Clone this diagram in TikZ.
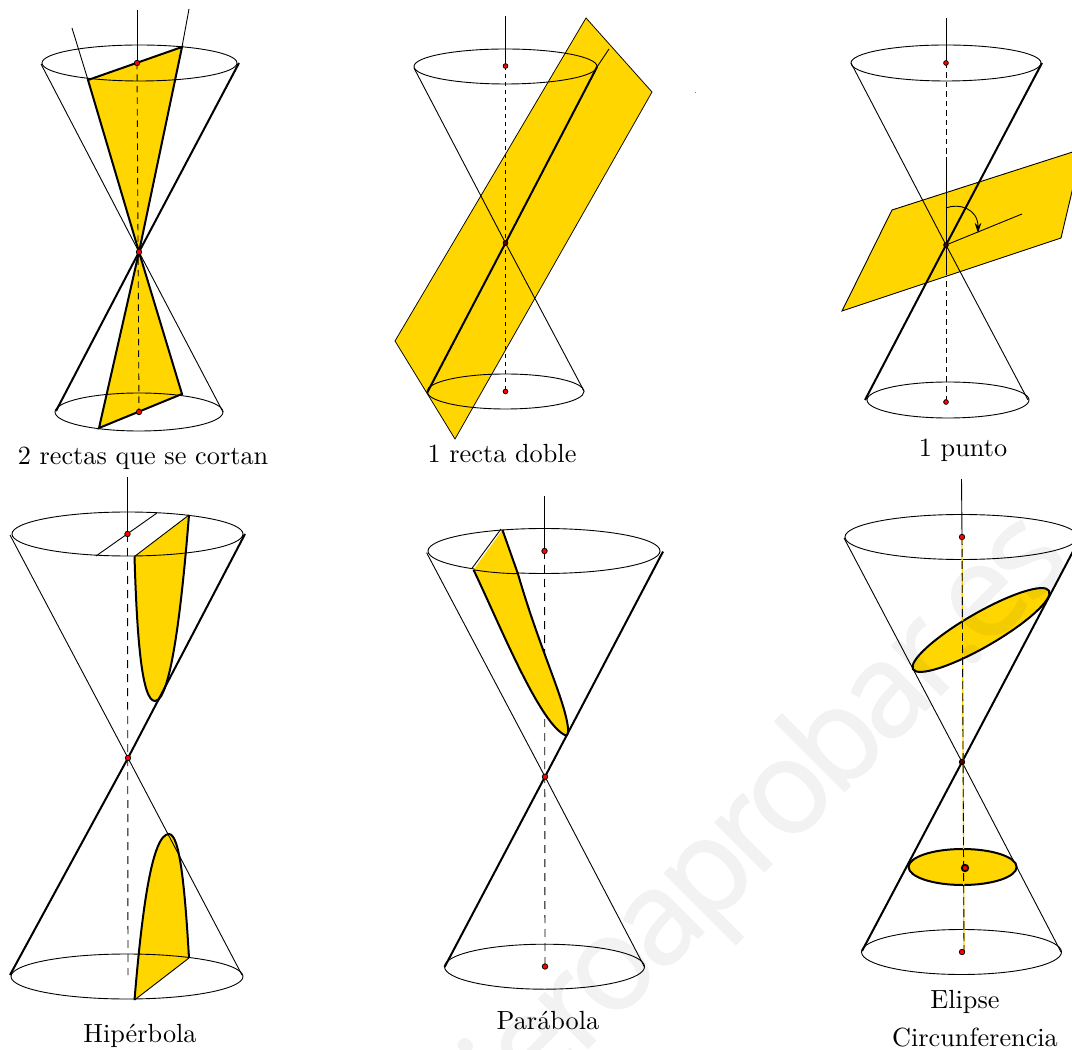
\documentclass[tikz,border=0pt]{standalone}
\usepackage{fontspec}
\newfontfamily\wmfont[FakeBold=1.2,LetterSpace=-6]{Open Sans}
\usetikzlibrary{arrows.meta}
\definecolor{gold}{RGB}{255,214,0}
\tikzset{
  thinl/.style={line width=0.36pt,black},
  thickl/.style={line width=0.8pt,black},
  axisd/.style={line width=0.36pt,black,dash pattern=on 2.6pt off 2pt},
  sect/.style={fill=gold,draw=none},
  ptm/.style={circle,fill=red,draw=black,line width=0.3pt,inner sep=0pt,minimum size=2.2pt},
  capt/.style={inner sep=0pt,font=\fontsize{10.5}{12.5}\selectfont},
}
\begin{document}
\begin{tikzpicture}[x=0.4pt,y=-0.4pt]
\useasboundingbox (0,0) rectangle (1072,1050);
\clip (0,0) rectangle (1072,1050);
%% ---------- Cone 1
\coordinate (a1t) at (137,63); \coordinate (a1m) at (139,252); \coordinate (a1b) at (139,412);
\coordinate (a1p) at (137,10);
\coordinate (a1tl) at (41,64); \coordinate (a1tr) at (239,63); \coordinate (a1bl) at (56,411); \coordinate (a1br) at (223,412);
\coordinate (a1A) at (88,80); \coordinate (a1B) at (182,47); \coordinate (a1C) at (99,428); \coordinate (a1D) at (182,394);
\coordinate (a1E) at (72,28); \coordinate (a1F) at (189,9);
\fill[sect] (a1A) -- (a1B) -- (a1m) -- cycle;
\fill[sect] (a1m) -- (a1C) -- (a1D) -- cycle;
\draw[thinl] (139.5,63) ellipse [x radius=97.5,y radius=18];
\draw[thinl] (139,412) ellipse [x radius=84,y radius=19];
\draw[thinl] (a1tl) -- (a1m) -- (a1br);
\draw[thickl] (a1tr) -- (a1m) -- (a1bl);
\draw[thinl] (a1E) -- (a1A);
\draw[thinl] (a1F) -- (a1B);
\draw[thickl] (a1A) -- (a1B) -- (a1m) -- cycle;
\draw[thickl] (a1m) -- (a1C) -- (a1D) -- cycle;
\draw[thinl] (a1p) -- (a1t);
\draw[axisd] (a1t) -- (a1b);
\node[ptm] (d1a) at (a1t) {}; \node[ptm] (d1b) at (a1m) {}; \node[ptm] (d1c) at (a1b) {};
\node[capt] (c1) at (143,458) {2 rectas que se cortan};
%% ---------- Cone 2
\coordinate (a2t) at (505.5,66); \coordinate (a2m) at (505.5,243); \coordinate (a2b) at (505.5,391.5);
\coordinate (a2p) at (505.5,16);
\coordinate (a2tl) at (414,68); \coordinate (a2br) at (584,391);
\coordinate (a2bl) at (427,393); \coordinate (a2tr) at (597,67); \coordinate (a2x) at (609,49);
\fill[gold,draw=black,line width=0.3pt] (586,18) -- (652,92) -- (455,439) -- (395,341) -- cycle;
\draw[thinl] (505.5,66.5) ellipse [x radius=91.5,y radius=17.5];
\draw[thinl] (505.5,391.5) ellipse [x radius=78.5,y radius=17.5];
\draw[thinl] (a2tl) -- (a2m) -- (a2br);
\draw[thinl] (a2tr) -- (a2x);
\draw[thickl] (a2bl) -- (a2m) -- (a2tr);
\draw[thinl] (a2p) -- (a2t);
\draw[axisd,dash pattern=on 1.8pt off 1.4pt] (a2t) -- (a2b);
\node[ptm,minimum size=1.9pt] (d2a) at (a2t) {}; \node[ptm,minimum size=1.9pt,fill=black!60!red] (d2b) at (a2m) {}; \node[ptm,minimum size=1.9pt] (d2c) at (a2b) {};
\fill[gray] (694.6,91.6) rectangle (695.4,92.4);
\node[capt] (c2) at (502,454) {1 recta doble};
%% ---------- Cone 3
\coordinate (a3t) at (946,63); \coordinate (a3m) at (946,245); \coordinate (a3b) at (946,402);
\coordinate (a3p) at (946,18);
\coordinate (a3tl) at (851,63); \coordinate (a3tr) at (1042,63); \coordinate (a3bl) at (865,400); \coordinate (a3br) at (1028,400);
\coordinate (a3e) at (1022,214);
\draw[thinl] (946,63) ellipse [x radius=95,y radius=18];
\draw[thinl] (948,400) ellipse [x radius=81,y radius=18];
\draw[axisd,dash pattern=on 2.2pt off 1.6pt] (a3t) -- (a3b);
\fill[gold,draw=black,line width=0.36pt] (892,210) -- (1082,149) -- (1061,238) -- (842,311) -- cycle;
\draw[thinl] (946,157) -- (946,275);
\draw[thinl] (a3p) -- (a3t);
\draw[thinl] (a3tl) -- (a3m) -- (a3br);
\draw[thickl] (a3tr) -- (a3m) -- (a3bl);
\draw[thinl] (a3m) -- (a3e);
\draw[thinl,-{Stealth[length=4pt,width=2.6pt]}] (946,208) .. controls (958,203) and (978,208) .. (978,233);
\node[ptm,minimum size=1.9pt] (d3a) at (a3t) {}; \node[ptm,minimum size=1.9pt,fill=black!70!red] (d3b) at (a3m) {}; \node[ptm,minimum size=1.9pt] (d3c) at (a3b) {};
\node[capt] (c3) at (963,450) {1 punto};
%% ---------- Cone 4
\coordinate (a4t) at (127.5,534); \coordinate (a4m) at (128,758); \coordinate (a4b) at (128,975);
\coordinate (a4p) at (127.5,477);
\coordinate (a4tl) at (10,535); \coordinate (a4tr) at (245,534); \coordinate (a4bl) at (10,975); \coordinate (a4br) at (242,975);
\fill[sect] (134.5,556.5) -- (189,515) .. controls (183,590) and (172,701) .. (155,701) .. controls (142,701) and (137,640) .. (134.5,556.5) -- cycle;
\fill[sect] (134.5,1000) .. controls (142,910) and (152,834) .. (169,834) .. controls (180,834) and (185,890) .. (189,958) -- cycle;
\draw[thinl] (127.5,534) ellipse [x radius=115.5,y radius=22];
\draw[thinl] (127,976.5) ellipse [x radius=116,y radius=22.5];
\draw[thinl] (a4tl) -- (a4m) -- (a4br);
\draw[thickl] (a4tr) -- (a4m) -- (a4bl);
\draw[thinl] (96,556) -- (157,513);
\draw[thinl] (134.5,556.5) -- (189,515);
\draw[thickl] (189,515) .. controls (183,590) and (172,701) .. (155,701) .. controls (142,701) and (137,640) .. (134.5,556.5);
\draw[thinl] (134.5,1000) -- (189,958);
\draw[thickl] (134.5,1000) .. controls (142,910) and (152,834) .. (169,834) .. controls (180,834) and (185,890) .. (189,958);
\draw[thinl] (a4p) -- (a4t);
\draw[axisd,dash pattern=on 3.2pt off 2.4pt] (a4t) -- (a4b);
\node[ptm] (d4a) at (a4t) {}; \node[ptm] (d4b) at (a4m) {};
\node[capt] (c4) at (140,1036) {Hipérbola};
%% ---------- Cone 5
\coordinate (a5t) at (544.5,551); \coordinate (a5m) at (545,776.7); \coordinate (a5b) at (545,966.5);
\coordinate (a5p) at (544.5,496);
\coordinate (a5tl) at (426.6,552.7); \coordinate (a5tr) at (663,551.6); \coordinate (a5bl) at (444.6,967); \coordinate (a5br) at (644.5,967);
\draw[thinl] (544,551) ellipse [x radius=116,y radius=22.5];
\draw[thinl] (544.5,966.7) ellipse [x radius=100,y radius=22.5];
\draw[thinl] (a5tl) -- (a5m) -- (a5br);
\draw[thickl] (a5tr) -- (a5m) -- (a5bl);
\draw[thinl] (a5p) -- (a5t);
\draw[axisd,dash pattern=on 3.2pt off 2.4pt] (a5t) -- (a5b);
\fill[sect] (473.5,569.8) -- (502.4,529.8) -- (518,574) .. controls (540,650) and (565,700) .. (568,728) .. controls (568.5,733) and (567,736) .. (566,735.6) .. controls (540,725) and (500,625) .. (473.5,569.8) -- cycle;
\draw[thinl] (471.5,569) -- (501,529);
\draw[thickl] (502.4,529.8) -- (518,574) .. controls (540,650) and (565,700) .. (568,728) .. controls (568.5,733) and (567,736) .. (566,735.6) .. controls (540,725) and (500,625) .. (473.5,569.8);
\draw[thinl] (473.5,569.8) .. controls (490,572.5) and (505,573.5) .. (518,573.7);
\node[ptm] (d5a) at (a5t) {}; \node[ptm] (d5b) at (a5m) {}; \node[ptm] (d5c) at (a5b) {};
\node[capt] (c5) at (548,1020) {Parábola};
%% ---------- Cone 6
\coordinate (a6t) at (962,537); \coordinate (a6m) at (962,762); \coordinate (a6b) at (964,952);
\coordinate (a6c) at (965,868); \coordinate (a6d) at (962,952);
\coordinate (a6p) at (961.5,479);
\coordinate (a6tl) at (844,538); \coordinate (a6tr) at (1079,540); \coordinate (a6bl) at (862,951); \coordinate (a6br) at (1061,952);
\draw[thinl] (961.5,537) ellipse [x radius=116.5,y radius=22.5];
\draw[thinl] (961.5,952) ellipse [x radius=100,y radius=22.5];
\draw[thinl] (a6tl) -- (a6m) -- (a6br);
\draw[thickl] (a6tr) -- (a6m) -- (a6bl);
\draw[thinl] (a6p) -- (a6t);
\draw[thickl,fill=gold,rotate around={30:(981,630)}] (981,630) ellipse [x radius=78.5,y radius=17];
\draw[thickl,fill=gold] (962.6,867) ellipse [x radius=54,y radius=18];
\draw[line width=0.5pt,gold] (a6t) -- (a6b);
\draw[axisd,dash pattern=on 3.2pt off 1.6pt] (a6t) -- (a6b);
\node[ptm] (d6a) at (a6t) {}; \node[ptm,fill=black!70!red] (d6b) at (a6m) {};
\node[ptm,line width=0.7pt,minimum size=2.6pt] (d6c) at (a6c) {}; \node[ptm] (d6d) at (a6d) {};
\node[capt] (c6a) at (965,1002) {Elipse};
\node[capt] (c6b) at (975,1038) {Circunferencia};
%% ---------- Watermark
\begin{scope}[transparency group,opacity=0.05]
\node[inner sep=0pt,rotate=45,black,font=\wmfont\fontsize{52}{58}\selectfont,anchor=base west] (wm) at (414,1222) {quieroaprobar.es};
\end{scope}
\end{tikzpicture}
\end{document}
